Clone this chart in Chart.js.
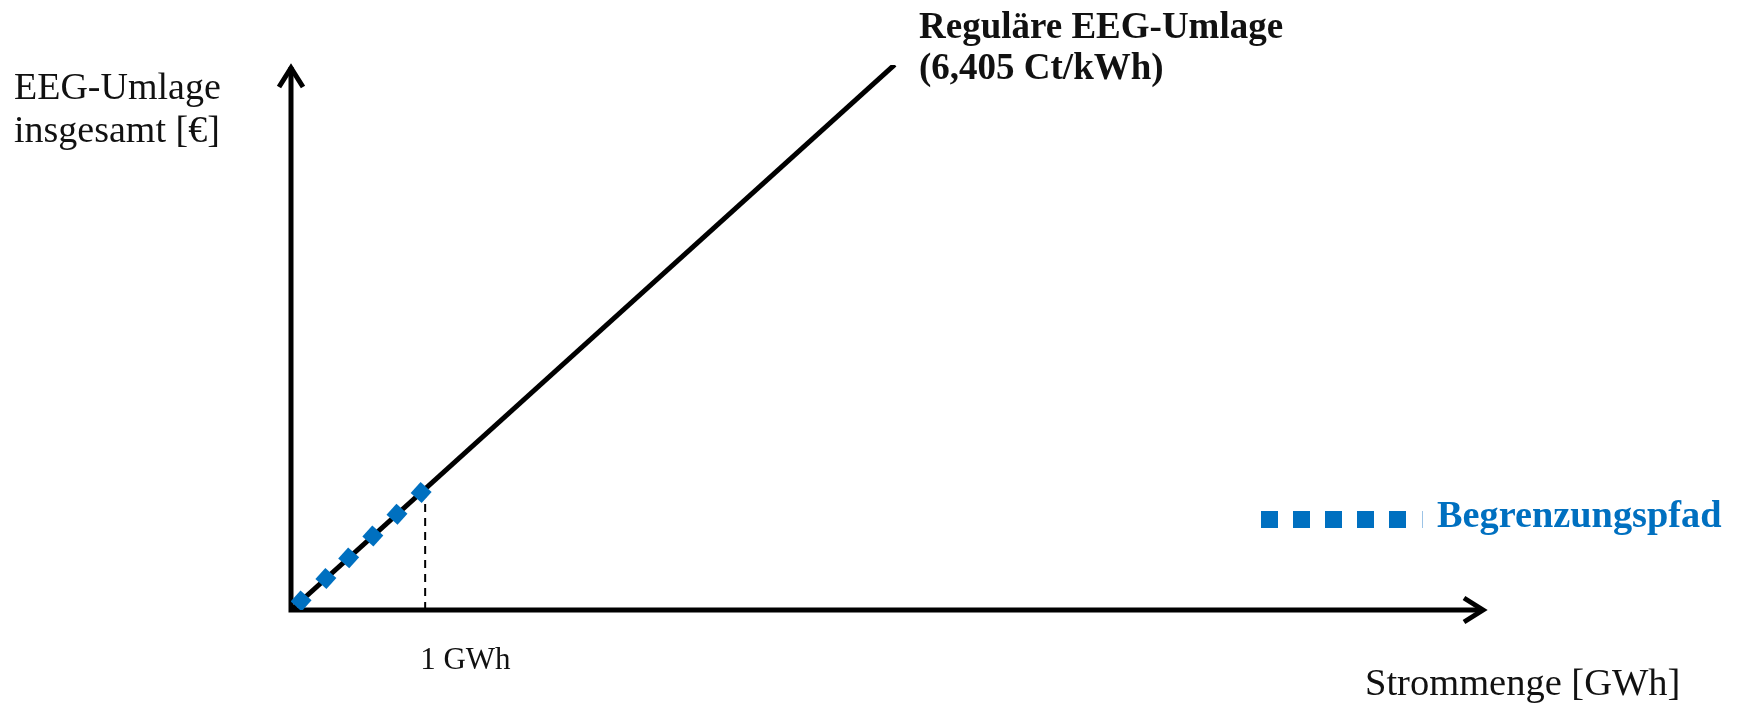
<!DOCTYPE html>
<html lang="de">
<head>
<meta charset="utf-8">
<title>EEG-Umlage Begrenzungspfad</title>
<script src="https://cdn.jsdelivr.net/npm/chart.js@4.4.1/dist/chart.umd.min.js"></script>
<style>
  html, body { margin: 0; padding: 0; background: #fff; }
  canvas { display: block; }
</style>
</head>
<body>
<canvas id="eegChart" width="1739" height="707"></canvas>
<script>
// ======================================================
// DATA
// ======================================================
const axisMaxGWh = 8.9;
const axisMaxEuro = 288000;

// regulaere EEG-Umlage, 6,405 Ct/kWh  (x in GWh, y in €)
const regularX = [0, 4.5];
const regularY = [0, 288200];

// Begrenzungspfad (markers up to 1 GWh)
const capX = [0.075, 0.26, 0.43, 0.61, 0.79, 0.97];
const capY = [4800, 16650, 27540, 39070, 50600, 62130];

// 1 GWh guide
const guideX = [1, 1];
const guideY = [0, 64050];

const labels = {
  yTitle: ["EEG-Umlage", "insgesamt [€]"],
  xTitle: "Strommenge [GWh]",
  tick: "1 GWh",
  regular: ["Reguläre EEG-Umlage", "(6,405 Ct/kWh)"],
  legend: "Begrenzungspfad"
};

const BLUE = "#0070c0";
const SERIF = "'Liberation Serif', 'DejaVu Serif', serif";

const toPoints = (xs, ys) => xs.map((x, i) => ({ x, y: ys[i] }));


// ======================================================
// PLUGIN — ARROW AXES + TEXT
// ======================================================
const decoPlugin = {
  id: "deco",
  beforeDatasetsDraw(chart) {
    const { ctx, chartArea: a } = chart;
    ctx.save();
    ctx.strokeStyle = "#000";
    ctx.lineWidth = 5;
    ctx.lineJoin = "miter";
    ctx.lineCap = "butt";

    // axes
    ctx.beginPath();
    ctx.moveTo(a.left, a.top + 2);
    ctx.lineTo(a.left, a.bottom);
    ctx.lineTo(a.right - 2, a.bottom);
    ctx.stroke();

    // arrow heads
    ctx.beginPath();
    ctx.moveTo(a.left - 12, a.top + 22);
    ctx.lineTo(a.left, a.top + 3);
    ctx.lineTo(a.left + 12, a.top + 22);
    ctx.stroke();

    ctx.beginPath();
    ctx.moveTo(a.right - 21, a.bottom - 12);
    ctx.lineTo(a.right - 2, a.bottom);
    ctx.lineTo(a.right - 21, a.bottom + 12);
    ctx.stroke();
    ctx.restore();
  },

  afterDraw(chart) {
    const { ctx, scales } = chart;
    const x = scales.x;
    ctx.save();
    ctx.textBaseline = "alphabetic";
    ctx.textAlign = "left";
    ctx.fillStyle = "#111";

    // y title
    ctx.font = `38px ${SERIF}`;
    ctx.fillText(labels.yTitle[0], 14, 99);
    ctx.fillText(labels.yTitle[1], 14, 142);

    // x title
    ctx.font = `38.5px ${SERIF}`;
    ctx.fillText(labels.xTitle, 1365, 695);

    // 1 GWh
    ctx.font = `31px ${SERIF}`;
    ctx.fillText(labels.tick, x.getPixelForValue(1) - 5, 669);

    // regular label
    ctx.font = `bold 37px ${SERIF}`;
    ctx.fillText(labels.regular[0], 919, 38);
    ctx.fillText(labels.regular[1], 919, 79);

    // legend
    const ly = 511;
    ctx.fillStyle = BLUE;
    for (let i = 0; i < 5; i++) {
      ctx.fillRect(1261 + i * 32, ly, 17, 17);
    }
    ctx.fillStyle = "#9cc3e6";
    ctx.fillRect(1422, ly, 1, 17);

    ctx.fillStyle = BLUE;
    ctx.font = `bold 38.3px ${SERIF}`;
    ctx.fillText(labels.legend, 1437, 527);
    ctx.restore();
  }
};


// ======================================================
// CHART
// ======================================================
document.addEventListener("DOMContentLoaded", () => {
  const canvas = document.getElementById("eegChart");

  new Chart(canvas, {
    type: "scatter",
    data: {
      datasets: [
        {
          label: labels.legend,
          data: toPoints(capX, capY),
          showLine: false,
          pointStyle: "rectRot",
          pointRadius: 10.5,
          pointRotation: -3,
          backgroundColor: BLUE,
          borderWidth: 0,
          order: 0
        },
        {
          label: labels.regular[0],
          data: toPoints(regularX, regularY),
          showLine: true,
          borderColor: "#000",
          borderWidth: 5,
          pointRadius: 0,
          order: 1
        },
        {
          label: "1 GWh",
          data: toPoints(guideX, guideY),
          showLine: true,
          borderColor: "#000",
          borderWidth: 2,
          borderDash: [8, 6],
          pointRadius: 0,
          order: 2
        }
      ]
    },
    options: {
      responsive: false,
      animation: false,
      layout: {
        padding: { left: 291, right: 254, top: 65, bottom: 97 }
      },
      scales: {
        x: { type: "linear", min: 0, max: axisMaxGWh, display: false },
        y: { type: "linear", min: 0, max: axisMaxEuro, display: false }
      },
      plugins: {
        legend: { display: false },
        tooltip: { enabled: false }
      }
    },
    plugins: [decoPlugin]
  });
});
</script>
</body>
</html>
